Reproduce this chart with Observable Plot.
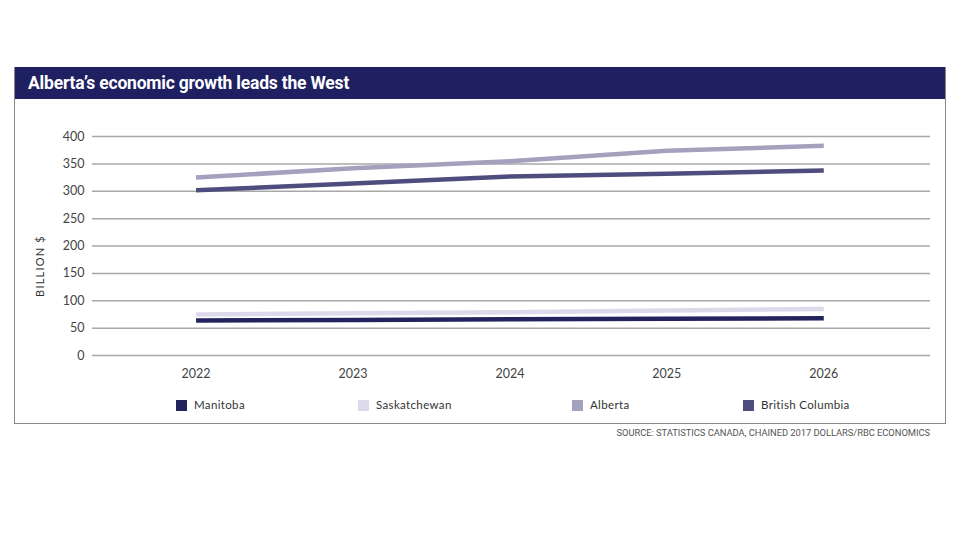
<!DOCTYPE html>
<html>
<head>
<meta charset="utf-8">
<script src="https://cdn.jsdelivr.net/npm/d3@7"></script>
<script src="https://cdn.jsdelivr.net/npm/@observablehq/plot@0.6"></script>
<style>
  html, body { margin: 0; padding: 0; background: #fff; width: 960px; height: 540px; overflow: hidden; font-family: Lato, "Open Sans", sans-serif; }
  #frame { position: absolute; left: 14px; top: 67px; width: 930px; border: 1px solid #8a8a8a; border-top: none; background: #fff; }
  #title { height: 32px; background: #1f2062; color: #fff; font-family: Roboto, sans-serif; font-weight: 700; font-size: 17.5px; line-height: 32px; padding-left: 13px; letter-spacing: -0.2px; }
  #legend { position: relative; height: 34px; }
  .item { position: absolute; top: 9px; font-size: 11.5px; color: #333; letter-spacing: 0.35px; line-height: 14px; display: flex; align-items: center; }
  .sw { width: 11px; height: 11px; margin-right: 7px; display: inline-block; }
  #source { position: absolute; top: 427px; right: 30px; font-family: Roboto, sans-serif; font-size: 9.4px; color: #555; letter-spacing: -0.05px; }
</style>
</head>
<body>
<div id="frame">
  <div id="title">Alberta’s economic growth leads the West</div>
  <div id="chart"></div>
  <div id="legend"></div>
</div>
<div id="source">SOURCE: STATISTICS CANADA, CHAINED 2017 DOLLARS/RBC ECONOMICS</div>
<script>
const years = [2022, 2023, 2024, 2025, 2026];
const provinces = ["Manitoba", "Saskatchewan", "Alberta", "British Columbia"];
const manitoba = [64, 65, 66, 67, 68];
const saskatchewan = [75, 77, 79, 82, 85];
const alberta = [325, 342, 355, 374, 383];
const britishColumbia = [302, 314, 327, 332, 338];
const colors = ["#23245e", "#dcdaea", "#a3a1bd", "#4f4d7d"];
const yTicks = [0, 50, 100, 150, 200, 250, 300, 350, 400];

const seriesValues = [manitoba, saskatchewan, alberta, britishColumbia];
const data = provinces.flatMap((p, i) => years.map((y, j) => ({province: p, year: y, value: seriesValues[i][j]})));

const chart = Plot.plot({
  width: 930,
  height: 290,
  marginLeft: 77,
  marginRight: 15,
  marginTop: 37,
  marginBottom: 34,
  style: {fontFamily: "Lato, 'Open Sans', sans-serif", fontSize: "12.5px", color: "#444"},
  x: {domain: [2021.34, 2026.68], ticks: years, tickFormat: d => String(d), tickSize: 0, tickPadding: 14, label: null},
  y: {domain: [0, 400], ticks: yTicks, tickSize: 0, tickPadding: 8, label: null},
  color: {domain: provinces, range: colors},
  marks: [
    Plot.gridY(yTicks, {stroke: "#a8a8a8", strokeOpacity: 1, strokeWidth: 1.5}),
    Plot.axisX({ticks: years, tickFormat: d => String(d), tickSize: 0, tickPadding: 14, fontSize: 12.5, fill: "#444"}),
    Plot.axisY({ticks: yTicks, tickSize: 0, tickPadding: 8, fontSize: 12.5, fill: "#444", label: null}),
    Plot.text(["BILLION $"], {frameAnchor: "left", dx: -52, rotate: -90, fontSize: 11, fill: "#333", textAnchor: "middle", dy: 20}),
    Plot.line(data, {x: "year", y: "value", z: "province", stroke: "province", strokeWidth: 4.5, strokeLinecap: "butt"})
  ]
});
document.getElementById("chart").appendChild(chart);
chart.querySelectorAll("text").forEach(t => { if (t.textContent === "BILLION $") t.setAttribute("letter-spacing", "1.2"); });

const legendX = [161, 343, 557, 728];
const legend = document.getElementById("legend");
provinces.forEach((p, i) => {
  const d = document.createElement("div");
  d.className = "item";
  d.style.left = legendX[i] + "px";
  d.innerHTML = `<span class="sw" style="background:${colors[i]}"></span>${p}`;
  legend.appendChild(d);
});
</script>
</body>
</html>
